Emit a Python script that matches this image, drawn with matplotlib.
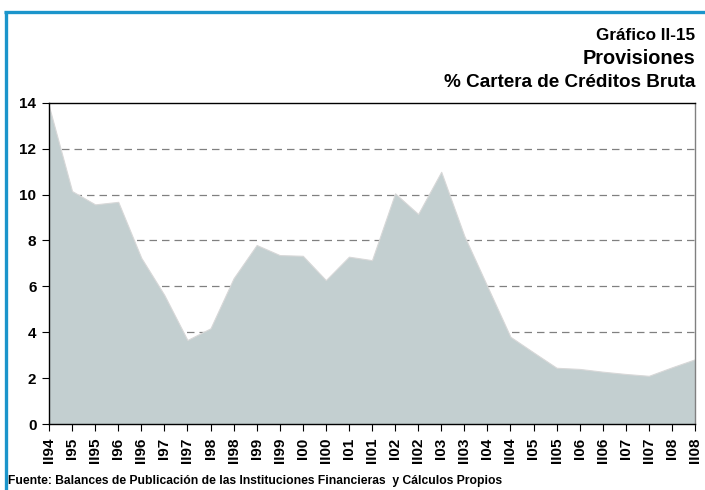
import matplotlib
matplotlib.use("Agg")
import matplotlib.pyplot as plt
from matplotlib.lines import Line2D

plt.rcParams['font.family'] = ['Liberation Sans', 'DejaVu Sans']

labels = ["II94", "I95", "II95", "I96", "II96", "I97", "II97", "I98", "II98", "I99",
          "II99", "I00", "II00", "I01", "II01", "I02", "II02", "I03", "II03", "I04",
          "II04", "I05", "II05", "I06", "II06", "I07", "II07", "I08", "II08"]
values = [13.85, 10.15, 9.57, 9.68, 7.24, 5.62, 3.66, 4.17, 6.35, 7.8,
          7.36, 7.33, 6.27, 7.29, 7.14, 10.05, 9.15, 10.99, 8.2, 6.0,
          3.8, 3.12, 2.45, 2.4, 2.28, 2.18, 2.1, 2.47, 2.82]
yticks = [0, 2, 4, 6, 8, 10, 12, 14]

W, H = 705, 490
fig = plt.figure(figsize=(W / 100, H / 100), dpi=100)
ax = fig.add_axes([49 / W, 1 - 424 / H, (695 - 49) / W, (424 - 102.7) / H])

x = list(range(len(values)))
ax.fill_between(x, values, 0, color="#C3CFD0", edgecolor="#D8D8D8", linewidth=0.8, zorder=1)
for yv in yticks[1:-1]:
    ax.axhline(yv, color="#808080", linestyle=(0, (6, 4)), linewidth=0.9, zorder=0)

ax.set_xlim(0, len(values) - 1)
ax.set_ylim(0, 14)
ax.set_yticks(yticks)
ax.set_yticklabels([str(v) for v in yticks], fontsize=11, fontweight="bold")
ax.set_xticks(x)
ax.set_xticklabels(labels, rotation=90, fontsize=11, fontweight="bold")
ax.tick_params(axis="y", direction="out", length=5, width=0.8, pad=4)
ax.tick_params(axis="x", direction="out", length=5, width=0.8, pad=5, color="#000000")
for s in ["left", "bottom", "top"]:
    ax.spines[s].set_color("black")
    ax.spines[s].set_linewidth(1.0)
ax.spines["right"].set_color("#808080")
ax.spines["right"].set_linewidth(1.0)

fig.text(695 / W, 1 - 40 / H, "Gráfico II-15", ha="right", va="baseline", fontsize=12.3, fontweight="bold")
fig.text(695 / W, 1 - 63.5 / H, "Provisiones", ha="right", va="baseline", fontsize=14.3, fontweight="bold")
fig.text(695 / W, 1 - 87 / H, "% Cartera de Créditos Bruta", ha="right", va="baseline", fontsize=13.6, fontweight="bold")
fig.text(8 / W, 1 - 481 / H, "Fuente: Balances de Publicación de las Instituciones Financieras  y Cálculos Propios",
         ha="left", va="center", fontsize=8.7, fontweight="bold")

blue = "#1B95CB"
fig.add_artist(Line2D([5.5 / W, 5.5 / W], [0, 1 - 11 / H], color=blue, linewidth=2.4,
                      transform=fig.transFigure, solid_capstyle="butt"))
fig.add_artist(Line2D([4.3 / W, 1], [1 - 12.5 / H, 1 - 12.5 / H], color=blue, linewidth=2.4,
                      transform=fig.transFigure, solid_capstyle="butt"))

fig.savefig("out.png", dpi=100)
